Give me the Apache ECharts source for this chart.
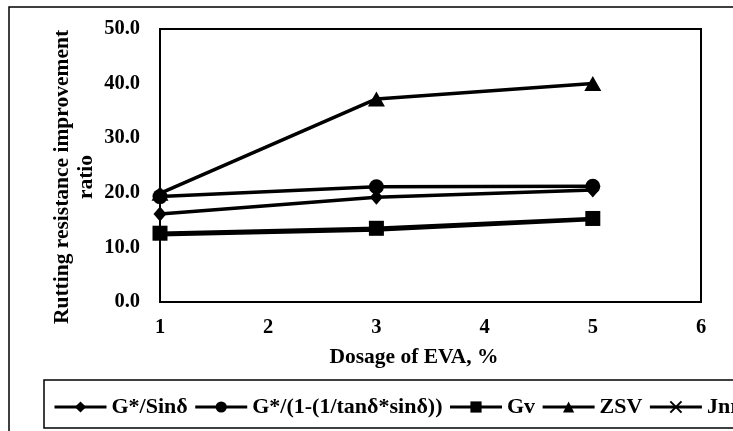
<!DOCTYPE html>
<html>
<head>
<meta charset="utf-8">
<script src="https://cdn.jsdelivr.net/npm/echarts@6/dist/echarts.min.js"></script>
<style>html,body{margin:0;padding:0;background:#fff}#c{width:733px;height:431px}</style>
</head>
<body>
<div id="c"></div>
<script>
const dosage = [1, 3, 5];
const xTicks = [1, 2, 3, 4, 5, 6];
const yTicks = [0, 10, 20, 30, 40, 50];
const seriesNames = ['G*/Sinδ', 'G*/(1-(1/tanδ*sinδ))', 'Gv', 'ZSV', 'Jnr'];
const gSin = [16.1, 19.2, 20.5];
const gMod = [19.3, 21.1, 21.2];
const gv = [12.6, 13.5, 15.3];
const zsv = [19.9, 37.2, 40.0];
const jnr = [12.3, 13.2, 15.1];

const FONT = '"Liberation Serif", "Times New Roman", serif';
const pairs = vals => dosage.map((d, i) => [d, vals[i]]);

function mk(name, vals, symbol, size, extra) {
  return Object.assign({
    name: name,
    type: 'line',
    data: pairs(vals),
    symbol: symbol,
    symbolSize: size,
    showSymbol: true,
    lineStyle: { color: '#000', width: 3.5 },
    itemStyle: { color: '#000' },
    animation: false
  }, extra || {});
}

const chart = echarts.init(document.getElementById('c'), null, { renderer: 'canvas' });
chart.setOption({
  backgroundColor: '#fff',
  animation: false,
  grid: { left: 160, top: 29, right: 32, bottom: 129, show: true, borderColor: '#000', borderWidth: 2, backgroundColor: 'transparent' },
  xAxis: {
    type: 'value', min: xTicks[0], max: xTicks[xTicks.length - 1], interval: 1,
    axisLine: { lineStyle: { color: '#000', width: 2 } },
    axisTick: { show: false },
    splitLine: { show: false },
    axisLabel: { color: '#000', fontFamily: FONT, fontWeight: 'bold', fontSize: 20.5, margin: 15 }
  },
  yAxis: {
    type: 'value', min: yTicks[0], max: yTicks[yTicks.length - 1], interval: 10,
    axisLine: { show: true, lineStyle: { color: '#000', width: 2 } },
    axisTick: { show: false },
    splitLine: { show: false },
    axisLabel: { color: '#000', fontFamily: FONT, fontWeight: 'bold', fontSize: 20.5, margin: 20, formatter: v => v.toFixed(1) }
  },
  legend: {
    data: seriesNames,
    left: 53, top: 396, padding: 0,
    width: 1200,
    itemWidth: 52, itemHeight: 14, itemGap: 6,
    lineStyle: { width: 3 },
    textStyle: { color: '#000', fontFamily: FONT, fontWeight: 'bold', fontSize: 22 }
  },
  graphic: [
    { type: 'rect', silent: true, shape: { x: 9, y: 7, width: 800, height: 500 }, style: { fill: 'none', stroke: '#000', lineWidth: 1.5 }, z: -1 },
    { type: 'rect', silent: true, shape: { x: 44, y: 380, width: 760, height: 48 }, style: { fill: 'none', stroke: '#000', lineWidth: 1.5 }, z: -1 },
    { type: 'text', silent: true, x: 74, y: 177, rotation: Math.PI / 2,
      style: { text: 'Rutting resistance improvement\nratio', fill: '#000', font: 'bold 21.5px ' + FONT, textAlign: 'center', textVerticalAlign: 'middle', lineHeight: 24 } },
    { type: 'text', silent: true, x: 414, y: 357,
      style: { text: 'Dosage of EVA, %', fill: '#000', font: 'bold 21.5px ' + FONT, textAlign: 'center', textVerticalAlign: 'middle' } }
  ],
  series: [
    mk(seriesNames[4], jnr, 'path://M0,0L10,10M10,0L0,10', 10, { itemStyle: { color: '#000', borderColor: '#000', borderWidth: 2 } }),
    mk(seriesNames[0], gSin, 'diamond', [13, 15]),
    mk(seriesNames[1], gMod, 'circle', 15),
    mk(seriesNames[2], gv, 'rect', 15),
    mk(seriesNames[3], zsv, 'triangle', [17, 15])
  ]
});
</script>
</body>
</html>
